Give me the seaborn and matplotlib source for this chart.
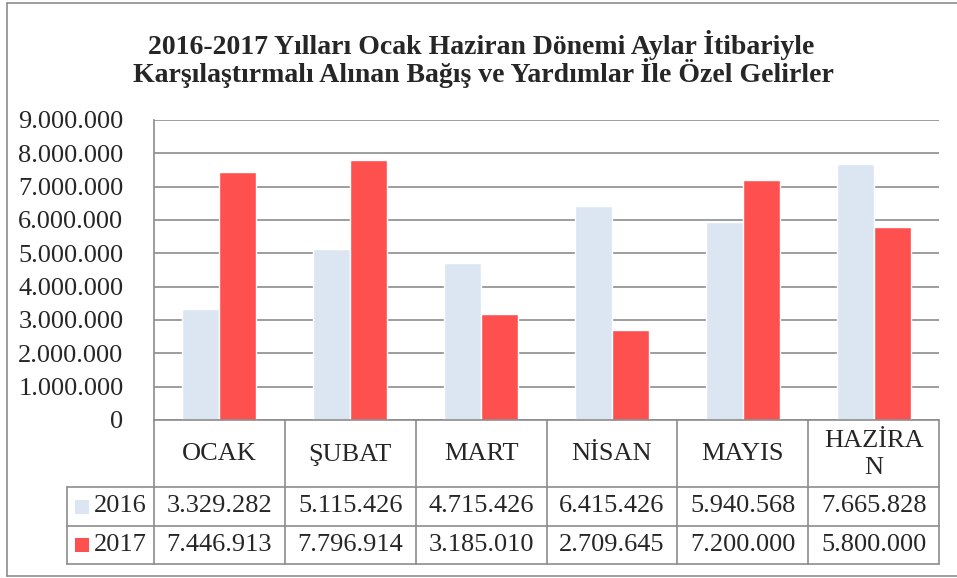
import pandas as pd
import matplotlib
matplotlib.use("Agg")
import matplotlib.pyplot as plt
import seaborn as sns
from matplotlib.patches import Rectangle
from matplotlib.lines import Line2D

# veriler
aylar = ["OCAK", "ŞUBAT", "MART", "NİSAN", "MAYIS", "HAZİRAN"]
aylar_tablo = ["OCAK", "ŞUBAT", "MART", "NİSAN", "MAYIS", "HAZİRA\nN"]
yillar = ["2016", "2017"]
gelir_2016 = [3329282, 5115426, 4715426, 6415426, 5940568, 7665828]
gelir_2017 = [7446913, 7796914, 3185010, 2709645, 7200000, 5800000]
y_ticks = [0, 1000000, 2000000, 3000000, 4000000, 5000000, 6000000, 7000000, 8000000, 9000000]
renkler = {"2016": "#DCE6F2", "2017": "#FF5050"}
baslik = ["2016-2017 Yılları Ocak Haziran Dönemi Aylar İtibariyle",
          "Karşılaştırmalı Alınan Bağış ve Yardımlar İle Özel Gelirler"]

df = pd.DataFrame({
    "ay": aylar * 2,
    "yil": ["2016"] * 6 + ["2017"] * 6,
    "deger": gelir_2016 + gelir_2017,
})

def nokta(x):
    return f"{x:,.0f}".replace(",", ".")

sns.set_style("white")
plt.rcParams["font.family"] = ["Liberation Serif", "DejaVu Serif"]

W, H = 957, 578
fig = plt.figure(figsize=(W / 100, H / 100), dpi=100)
x0, x1, ytop, ybot = 154, 939, 120, 420
ax = fig.add_axes([x0 / W, 1 - ybot / H, (x1 - x0) / W, (ybot - ytop) / H])

sns.barplot(data=df, x="ay", y="deger", hue="yil", order=aylar, hue_order=yillar,
            palette=renkler, width=0.565, gap=0, saturation=1, ax=ax, legend=False)
ax.set_xlim(-0.5, 5.5)
ax.set_ylim(0, 9000000)
ax.set_yticks(y_ticks)
ax.set_yticklabels([nokta(t) for t in y_ticks], fontsize=19)
ax.tick_params(axis="y", length=0, pad=22)
ax.set_xticks([])
ax.set_xlabel("")
ax.set_ylabel("")
grid = "#8c8c8c"
for t in y_ticks:
    ax.axhline(t, color=grid, lw=1.2, zorder=0)
for s in ["top", "right", "bottom"]:
    ax.spines[s].set_visible(False)
ax.spines["left"].set_color(grid)
ax.spines["left"].set_linewidth(1.2)

# tablo (figür piksel koordinatları)
def fx(px):
    return px / W

def fy(py):
    return 1 - py / H

def cizgi(xa, xb, ya, yb):
    fig.add_artist(Line2D([fx(xa), fx(xb)], [fy(ya), fy(yb)], color=grid, lw=1.2))

kolon = [x0 + (x1 - x0) * i / 6 for i in range(7)]
sat = [ybot, 487, 526, 564]
leg_x = 67
cizgi(x0, x1, sat[0], sat[0])
for yy in sat[1:]:
    cizgi(leg_x, x1, yy, yy)
for xx in kolon:
    cizgi(xx, xx, sat[0], sat[3])
cizgi(leg_x, leg_x, sat[1], sat[3])

for i in range(6):
    cx = (kolon[i] + kolon[i + 1]) / 2
    fig.text(fx(cx), fy((sat[0] + sat[1]) / 2 + 1), aylar_tablo[i], ha="center", va="center",
             fontsize=19, linespacing=1.3)
    fig.text(fx(cx), fy((sat[1] + sat[2]) / 2), nokta(gelir_2016[i]), ha="center", va="center", fontsize=19)
    fig.text(fx(cx), fy((sat[2] + sat[3]) / 2), nokta(gelir_2017[i]), ha="center", va="center", fontsize=19)

for j, yil in enumerate(yillar):
    cy = (sat[j + 1] + sat[j + 2]) / 2
    fig.add_artist(Rectangle((fx(75), fy(cy + 7)), 14 / W, 14 / H, color=renkler[yil], lw=0))
    fig.text(fx(94), fy(cy), yil, ha="left", va="center", fontsize=19)

# başlık
fig.text(fx(481), fy(45), baslik[0], ha="center", va="center", fontsize=20, fontweight="bold")
fig.text(fx(483), fy(73), baslik[1], ha="center", va="center", fontsize=20, fontweight="bold")

# dış çerçeve
cizgi(7, W, 3, 3)
cizgi(7, 7, 3, 576)
cizgi(7, W, 576, 576)

fig.savefig("out.png", dpi=100)
